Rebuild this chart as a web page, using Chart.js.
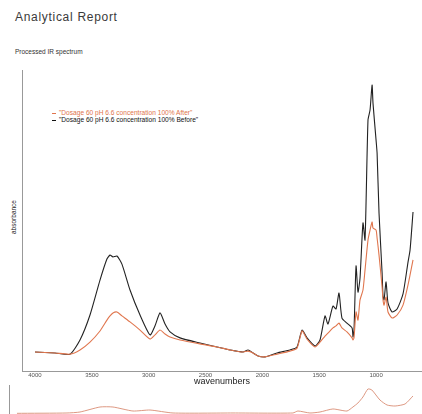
<!DOCTYPE html>
<html>
<head>
<meta charset="utf-8">
<script src="https://cdn.jsdelivr.net/npm/chart.js@4"></script>
<style>
  html, body { margin: 0; padding: 0; background: #fff; overflow: hidden; }
  body { width: 422px; height: 414px; position: relative; font-family: "Liberation Sans", Arial, sans-serif; }
  .abs { position: absolute; white-space: nowrap; }
  #title { left: 15px; top: 10px; font-size: 12px; letter-spacing: 0.7px; color: #3a3a3a; }
  #subtitle { left: 15px; top: 48px; font-size: 6.5px; color: #333; }
  #ylab { left: 13px; top: 217px; font-size: 6.5px; color: #222; transform: translate(-50%, -50%) rotate(-90deg); }
  #legend { left: 52px; top: 109px; font-size: 6.6px; line-height: 7px; }
  #legend span.dash { display: inline-block; width: 4px; height: 1px; vertical-align: middle; margin-right: 3px; }
  #main { position: absolute; left: 0; top: 0; }
  #lower { position: absolute; left: 0; top: 380px; }
</style>
</head>
<body>
<div id="title" class="abs">Analytical Report</div>
<div id="subtitle" class="abs">Processed IR spectrum</div>
<div id="ylab" class="abs">absorbance</div>
<div id="legend" class="abs">
  <div style="color:#e0744c"><span class="dash" style="background:#e0744c"></span>"Dosage 60 pH 6.6 concentration 100% After"</div>
  <div style="color:#111"><span class="dash" style="background:#111"></span>"Dosage 60 pH 6.6 concentration 100% Before"</div>
</div>
<canvas id="main" width="422" height="414"></canvas>
<canvas id="lower" width="422" height="70"></canvas>
<script>
// wavenumbers (cm-1) shared by both traces of the main spectrum
const wavenumbers = [4000, 3824, 3692, 3604, 3516, 3428, 3367, 3340, 3314, 3279, 3235, 3164, 3076, 2988, 2944, 2900, 2856, 2812, 2724, 2549, 2399, 2285, 2170, 2126, 2082, 2038, 1977, 1871, 1757, 1695, 1651, 1607, 1537, 1493, 1449, 1423, 1379, 1352, 1326, 1300, 1256, 1211, 1203, 1194, 1176, 1159, 1141, 1115, 1097, 1071, 1053, 1035, 1027, 1000, 991, 974, 947, 939, 930, 912, 895, 859, 815, 763, 719, 701, 675];

const before = [0.063, 0.060, 0.056, 0.103, 0.186, 0.302, 0.372, 0.385, 0.379, 0.382, 0.355, 0.269, 0.186, 0.120, 0.150, 0.193, 0.156, 0.130, 0.110, 0.093, 0.080, 0.070, 0.063, 0.070, 0.060, 0.050, 0.047, 0.060, 0.070, 0.080, 0.136, 0.110, 0.083, 0.103, 0.183, 0.156, 0.216, 0.206, 0.259, 0.176, 0.159, 0.143, 0.113, 0.136, 0.349, 0.262, 0.309, 0.492, 0.435, 0.834, 0.867, 0.950, 0.890, 0.767, 0.724, 0.525, 0.326, 0.249, 0.236, 0.296, 0.226, 0.196, 0.206, 0.256, 0.362, 0.402, 0.528];

const after = [0.063, 0.060, 0.056, 0.070, 0.096, 0.133, 0.169, 0.183, 0.193, 0.196, 0.183, 0.163, 0.136, 0.106, 0.120, 0.136, 0.123, 0.113, 0.103, 0.090, 0.080, 0.070, 0.063, 0.066, 0.060, 0.050, 0.047, 0.056, 0.066, 0.076, 0.133, 0.106, 0.080, 0.096, 0.116, 0.126, 0.143, 0.150, 0.159, 0.143, 0.130, 0.110, 0.103, 0.110, 0.196, 0.169, 0.236, 0.269, 0.336, 0.435, 0.468, 0.495, 0.475, 0.468, 0.442, 0.385, 0.279, 0.236, 0.219, 0.246, 0.196, 0.176, 0.186, 0.219, 0.286, 0.319, 0.369];

const xTicks = [4000, 3500, 3000, 2500, 2000, 1500, 1000];

// lower (partly visible) spectrum
const lowerWavenumbers = [4000, 3580, 3471, 3303, 3194, 3026, 2883, 2690, 2186, 1683, 1641, 1540, 1456, 1347, 1229, 1179, 1137, 1095, 1053, 1020, 952, 892, 825, 741, 675];
const lowerValues = [0.485, 0.491, 0.509, 0.600, 0.600, 0.527, 0.545, 0.491, 0.491, 0.491, 0.527, 0.491, 0.509, 0.564, 0.527, 0.600, 0.673, 0.782, 0.927, 0.909, 0.727, 0.636, 0.618, 0.655, 0.800];

const toPoints = (xs, ys) => xs.map((x, i) => ({ x: x, y: ys[i] }));

Chart.defaults.font.family = '"Liberation Sans", Arial, sans-serif';

new Chart(document.getElementById('main').getContext('2d'), {
  type: 'line',
  data: {
    datasets: [{
      label: 'After',
      data: toPoints(wavenumbers, after),
      borderColor: '#e0764e',
      borderWidth: 1.1,
      pointRadius: 0,
      tension: 0.2
    }, {
      label: 'Before',
      data: toPoints(wavenumbers, before),
      borderColor: '#222',
      borderWidth: 1.1,
      pointRadius: 0,
      tension: 0.2
    }]
  },
  options: {
    responsive: false,
    animation: false,
    devicePixelRatio: 1,
    layout: { padding: { left: 22, top: 70, right: 0, bottom: 21 } },
    plugins: { legend: { display: false }, tooltip: { enabled: false } },
    scales: {
      x: {
        type: 'linear',
        reverse: true,
        min: 596,
        max: 4114,
        afterBuildTicks: (scale) => { scale.ticks = xTicks.map(v => ({ value: v })); },
        afterFit: (scale) => { scale.height = 22; },
        grid: { display: false, drawTicks: false },
        border: { display: true, color: '#999', width: 1 },
        ticks: { font: { size: 6 }, color: '#555', padding: 1, maxRotation: 0, callback: (v) => String(v) },
        title: { display: true, text: 'wavenumbers', font: { size: 9 }, color: '#222', padding: { top: 0, bottom: 6 } }
      },
      y: {
        min: 0,
        max: 1,
        grid: { display: false, drawTicks: false },
        border: { display: true, color: '#999', width: 1 },
        ticks: { display: false }
      }
    }
  }
});

new Chart(document.getElementById('lower').getContext('2d'), {
  type: 'line',
  data: {
    datasets: [{
      label: 'lower',
      data: toPoints(lowerWavenumbers, lowerValues),
      borderColor: '#d98c74',
      borderWidth: 0.9,
      pointRadius: 0,
      tension: 0.2
    }]
  },
  options: {
    responsive: false,
    animation: false,
    devicePixelRatio: 1,
    layout: { padding: { left: 9, top: 5, right: 0, bottom: 10 } },
    plugins: { legend: { display: false }, tooltip: { enabled: false } },
    scales: {
      x: { type: 'linear', reverse: true, min: 599, max: 4067, display: false },
      y: {
        min: 0,
        max: 1,
        grid: { display: false, drawTicks: false },
        border: { display: true, color: '#999', width: 1 },
        ticks: { display: false }
      }
    }
  }
});
</script>
</body>
</html>
